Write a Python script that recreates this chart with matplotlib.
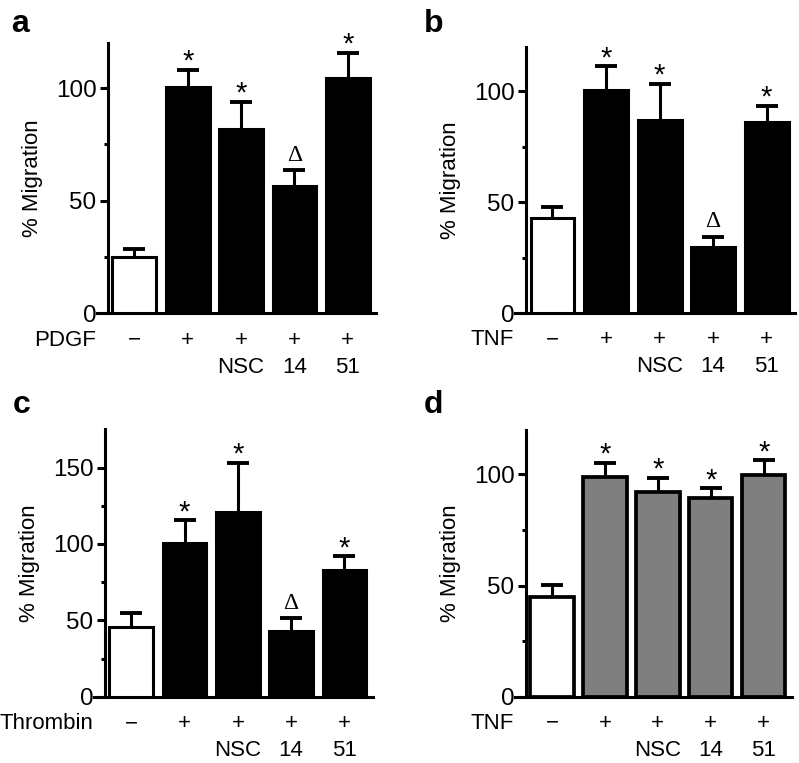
import matplotlib

matplotlib.use("Agg")
import matplotlib.pyplot as plt
import matplotlib.transforms as mtransforms
import numpy as np

plt.rcParams["font.family"] = ["Liberation Sans", "DejaVu Sans"]

# values (upper error only)
a_vals = [25.0, 100.3, 81.7, 56.3, 104.5]
a_errs = [3.6, 7.7, 12.3, 7.1, 11.2]
b_vals = [42.9, 100.7, 86.9, 29.8, 86.1]
b_errs = [4.9, 10.5, 16.4, 4.5, 7.4]
c_vals = [45.6, 100.7, 120.8, 43.3, 83.2]
c_errs = [9.2, 14.9, 32.4, 7.9, 8.7]
d_vals = [44.8, 99.0, 92.2, 89.2, 99.7]
d_errs = [5.6, 6.3, 6.3, 4.5, 6.7]

treat_row = ["\u2212", "+", "+", "+", "+"]
drug_row = ["", "", "NSC", "14", "51"]
marks_a = ["", "*", "*", "\u0394", "*"]
marks_b = ["", "*", "*", "\u0394", "*"]
marks_c = ["", "*", "*", "\u0394", "*"]
marks_d = ["", "*", "*", "*", "*"]

INK = "black"
GREY = "#7f7f7f"
LW = 2.2

W, H = 799, 763
fig = plt.figure(figsize=(W / 100, H / 100), dpi=100)


def px_axes(left, right, top, bottom):
    return fig.add_axes([left / W, 1 - bottom / H, (right - left) / W, (bottom - top) / H])


def panel(ax, vals, errs, marks, treatment, ymax, major, letter, lx, ly, fill):
    x = np.arange(len(vals))
    faces = ["white"] + [fill] * (len(vals) - 1)
    ax.bar(x, vals, width=0.82, color=faces, edgecolor=INK,
           linewidth=LW if fill == INK else 2.7, zorder=3)
    _, caps, _ = ax.errorbar(x, vals, yerr=[np.zeros(len(vals)), errs], fmt="none",
                             ecolor=INK, elinewidth=LW, capsize=7.6, capthick=2.8,
                             zorder=2)
    for cap in caps:
        if np.allclose(cap.get_ydata(), vals):
            cap.set_visible(False)

    for xi, v, e, m in zip(x, vals, errs, marks):
        if not m:
            continue
        if m == "*":
            ax.annotate(m, (xi, v + e), xytext=(0, 0), textcoords="offset points",
                        ha="center", va="baseline", fontsize=21, zorder=4)
        else:
            ax.annotate(m, (xi, v + e), xytext=(0, 7), textcoords="offset points",
                        ha="center", va="baseline", fontsize=17,
                        family="Liberation Serif", zorder=4)

    ax.set_xlim(-0.7, 4.53)
    ax.set_ylim(0, ymax)
    ax.spines["left"].set_position(("data", -0.5))
    ax.spines["left"].set_bounds(0, ymax)
    for s in ("left", "bottom"):
        ax.spines[s].set_linewidth(LW)
    for s in ("top", "right"):
        ax.spines[s].set_visible(False)
    ax.set_xticks([])
    ax.set_yticks(np.arange(0, ymax + 1, major))
    ax.set_yticks(np.arange(major / 2, ymax, major), minor=True)
    ax.tick_params(axis="y", which="major", length=6, width=LW, labelsize=17.5, pad=2)
    ax.tick_params(axis="y", which="minor", length=3, width=LW)
    ax.set_ylabel("% Migration", fontsize=16, labelpad=9)

    tr = mtransforms.blended_transform_factory(ax.transData, ax.transAxes)
    ax.text(-0.72, -0.1, treatment, transform=tr, ha="right", va="center", fontsize=16)
    for xi, t1, t2 in zip(x, treat_row, drug_row):
        ax.text(xi, -0.1, t1, transform=tr, ha="center", va="center", fontsize=16)
        if t2:
            ax.text(xi, -0.2, t2, transform=tr, ha="center", va="center", fontsize=16)

    fig.text(lx / W, 1 - ly / H, letter, fontsize=23, fontweight="bold",
             ha="left", va="baseline")


ax_a = px_axes(97, 376, 43, 313.3)
panel(ax_a, a_vals, a_errs, marks_a, "PDGF", 120, 50, "a", 11, 32, INK)
ax_b = px_axes(515, 795, 46.7, 313.3)
panel(ax_b, b_vals, b_errs, marks_b, "TNF", 120, 50, "b", 424, 32, INK)
ax_c = px_axes(94, 372.7, 429.3, 696.7)
panel(ax_c, c_vals, c_errs, marks_c, "Thrombin", 175, 50, "c", 13, 413, INK)
ax_d = px_axes(515, 791.7, 430, 696.7)
panel(ax_d, d_vals, d_errs, marks_d, "TNF", 120, 50, "d", 424, 413, GREY)

fig.savefig("out.png", dpi=100, facecolor="white")
